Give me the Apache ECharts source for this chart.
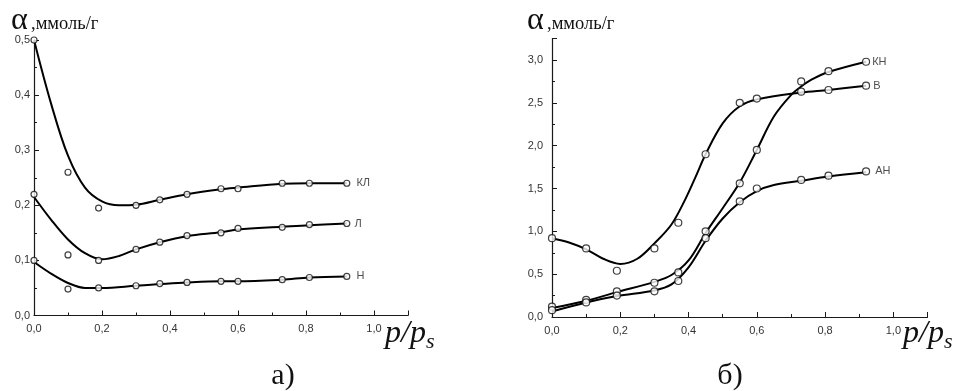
<!DOCTYPE html>
<html>
<head>
<meta charset="utf-8">
<script src="https://cdn.jsdelivr.net/npm/echarts@6/dist/echarts.min.js"></script>
<style>
html,body{margin:0;padding:0;background:#fff;}
#c{width:959px;height:391px;}
</style>
</head>
<body>
<div id="c"></div>
<script>
// ---- data ----
const xPts = [0, 0.1, 0.19, 0.3, 0.37, 0.45, 0.55, 0.6, 0.73, 0.81, 0.92];

// chart a) measured points
const klPts = [0.5, 0.26, 0.195, 0.2, 0.21, 0.22, 0.23, 0.23, 0.24, 0.24, 0.24];
const lPts  = [0.22, 0.11, 0.1, 0.12, 0.133, 0.145, 0.15, 0.158, 0.16, 0.165, 0.167];
const nPts  = [0.1, 0.048, 0.05, 0.054, 0.058, 0.06, 0.062, 0.062, 0.065, 0.069, 0.071];

// chart a) fitted curves
const klCurve = [[0,0.5],[0.05,0.385],[0.1,0.29],[0.15,0.232],[0.2,0.207],[0.25,0.2],[0.3,0.201],[0.37,0.21],[0.45,0.22],[0.55,0.229],[0.6,0.232],[0.73,0.239],[0.81,0.24],[0.92,0.24]];
const lCurve  = [[0,0.215],[0.05,0.174],[0.1,0.138],[0.15,0.113],[0.2,0.102],[0.25,0.108],[0.3,0.12],[0.37,0.133],[0.45,0.144],[0.55,0.151],[0.6,0.156],[0.73,0.161],[0.81,0.164],[0.92,0.167]];
const nCurve  = [[0,0.097],[0.05,0.076],[0.1,0.059],[0.15,0.05],[0.2,0.05],[0.3,0.054],[0.37,0.057],[0.45,0.06],[0.55,0.062],[0.6,0.062],[0.73,0.065],[0.81,0.069],[0.92,0.071]];

// chart б) measured points
const knPts = [0.12, 0.2, 0.3, 0.4, 0.52, 1.0, 1.56, 1.95, 2.75, 2.87, 2.98];
const vPts  = [0.92, 0.8, 0.54, 0.8, 1.1, 1.9, 2.5, 2.55, 2.63, 2.65, 2.7];
const anPts = [0.08, 0.17, 0.25, 0.3, 0.42, 0.92, 1.35, 1.5, 1.6, 1.65, 1.7];

// chart б) fitted curves
const knCurve = [[0,0.105],[0.1,0.19],[0.19,0.29],[0.3,0.41],[0.35,0.49],[0.4,0.66],[0.45,0.98],[0.5,1.27],[0.55,1.57],[0.6,1.95],[0.65,2.34],[0.7,2.59],[0.73,2.69],[0.76,2.77],[0.81,2.86],[0.92,2.98]];
const vCurve  = [[0,0.92],[0.05,0.87],[0.1,0.79],[0.15,0.68],[0.2,0.62],[0.25,0.68],[0.3,0.86],[0.35,1.08],[0.39,1.37],[0.42,1.63],[0.45,1.9],[0.5,2.26],[0.55,2.46],[0.6,2.54],[0.73,2.62],[0.81,2.65],[0.92,2.7]];
const anCurve = [[0,0.065],[0.1,0.17],[0.19,0.245],[0.3,0.31],[0.35,0.38],[0.4,0.58],[0.45,0.89],[0.5,1.15],[0.55,1.34],[0.6,1.47],[0.65,1.54],[0.73,1.59],[0.81,1.64],[0.92,1.69]];

const leftNames  = ['КЛ', 'Л', 'Н'];
const rightNames = ['КН', 'В', 'АН'];

// ---- build options ----
const fmt = (step) => (v) => {
  const k = v / step;
  return Math.abs(k - Math.round(k)) < 1e-6 ? v.toFixed(1).replace('.', ',') : '';
};

function xAx(gi) {
  return {
    type: 'value', gridIndex: gi, min: 0, max: 1.1, interval: 0.2,
    axisLine: { show: true, onZero: false, lineStyle: { color: '#1a1a1a', width: 1.2 } },
    axisTick: { show: true, inside: true, length: 5, lineStyle: { color: '#1a1a1a' } },
    minorTick: { show: true, splitNumber: 2, length: 3, lineStyle: { color: '#1a1a1a' } },
    splitLine: { show: false },
    axisLabel: { fontSize: 11, color: '#333', margin: 8, fontFamily: 'Liberation Sans, Arial, sans-serif', formatter: fmt(0.2) }
  };
}
function yAx(gi, max, interval, margin) {
  return {
    type: 'value', gridIndex: gi, min: 0, max: max, interval: interval,
    axisLine: { show: true, onZero: false, lineStyle: { color: '#1a1a1a', width: 1.2 } },
    axisTick: { show: true, inside: true, length: 5, lineStyle: { color: '#1a1a1a' } },
    minorTick: { show: true, splitNumber: 2, length: 3, lineStyle: { color: '#1a1a1a' } },
    splitLine: { show: false },
    axisLabel: { fontSize: 11, color: '#333', margin: margin, fontFamily: 'Liberation Sans, Arial, sans-serif', formatter: fmt(interval) }
  };
}

function curve(data, gi) {
  return {
    type: 'line', xAxisIndex: gi, yAxisIndex: gi, data: data,
    smooth: 0.35, showSymbol: false, symbol: 'none', silent: true, z: 2,
    lineStyle: { color: '#000', width: 2 }
  };
}
function marks(ys, name, gi, size, dist) {
  const last = ys.length - 1;
  return {
    type: 'scatter', xAxisIndex: gi, yAxisIndex: gi, z: 3, silent: true,
    symbol: 'circle', symbolSize: size,
    itemStyle: { color: '#fff', borderColor: '#111', borderWidth: 1.2 },
    data: xPts.map((x, i) => ({
      value: [x, ys[i]],
      label: i === last ? {
        show: true, position: 'right', distance: dist, formatter: name,
        fontSize: 11, color: '#222', fontFamily: 'Liberation Sans, Arial, sans-serif'
      } : { show: false }
    }))
  };
}

const serif = '"Liberation Serif", "DejaVu Serif", "Times New Roman", serif';
function txt(x, y, text, size, extra) {
  return {
    type: 'text', x: x, y: y, silent: true,
    style: Object.assign({ text: text, font: size + 'px ' + serif, fill: '#111', verticalAlign: 'middle', align: 'left' }, extra || {})
  };
}

const option = {
  animation: false,
  backgroundColor: '#fff',
  grid: [
    { left: 34, top: 40, width: 374, height: 275.5 },
    { left: 552, top: 38.6, width: 375.5, height: 278.4 }
  ],
  xAxis: [xAx(0), xAx(1)],
  yAxis: [yAx(0, 0.5, 0.1, 4), yAx(1, 3.25, 0.5, 9)],
  series: [
    curve(klCurve, 0), curve(lCurve, 0), curve(nCurve, 0),
    marks(klPts, leftNames[0], 0, 6, 6), marks(lPts, leftNames[1], 0, 6, 4), marks(nPts, leftNames[2], 0, 6, 6),
    curve(knCurve, 1), curve(vCurve, 1), curve(anCurve, 1),
    marks(knPts, rightNames[0], 1, 7, 2), marks(vPts, rightNames[1], 1, 7, 3), marks(anPts, rightNames[2], 1, 7, 5)
  ],
  graphic: [
    txt(11, 21, 'α', 32),
    txt(31, 24, ',ммоль/г', 18.5),
    txt(527, 21, 'α', 32),
    txt(547, 24, ',ммоль/г', 18.5),
    txt(385, 334, 'p/p', 32, { font: 'italic 32px ' + serif }),
    txt(426, 342, 's', 22, { font: 'italic 22px ' + serif }),
    txt(903, 334, 'p/p', 32, { font: 'italic 32px ' + serif }),
    txt(944, 342, 's', 22, { font: 'italic 22px ' + serif }),
    txt(283, 376, 'а)', 30, { align: 'center' }),
    txt(730, 376, 'б)', 30, { align: 'center' })
  ]
};

const chart = echarts.init(document.getElementById('c'), null, { renderer: 'canvas' });
chart.setOption(option);
</script>
</body>
</html>
